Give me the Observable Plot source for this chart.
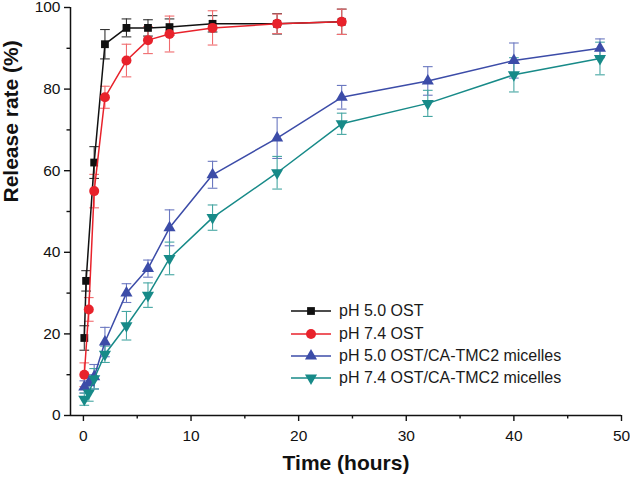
<!DOCTYPE html>
<html>
<head>
<meta charset="utf-8">
<script src="https://cdn.jsdelivr.net/npm/d3@7"></script>
<script src="https://cdn.jsdelivr.net/npm/@observablehq/plot@0.6"></script>
<style>
  body { margin: 0; background: #fff; }
  #wrap { position: relative; width: 630px; height: 479px; font-family: "Liberation Sans", Arial, sans-serif; }
  #legend { position: absolute; left: 290px; top: 300px; font-size: 16px; color: #1a1a1a; }
  #legend .row { display: flex; align-items: center; height: 22.4px; }
  #legend svg { display: block; margin-right: 7px; }
</style>
</head>
<body>
<div id="wrap"><div id="legend"></div></div>
<script>
// ---- data ----
const seriesNames = ["pH 5.0 OST", "pH 7.4 OST", "pH 5.0 OST/CA-TMC2 micelles", "pH 7.4 OST/CA-TMC2 micelles"];
const seriesColors = ["#111111", "#e8222b", "#3c4ca8", "#178a88"];
const errorColors  = ["#333333", "#f06b6e", "#6b78c0", "#45a6a2"];

const timeOST5 = [0.083, 0.25, 1, 2, 4, 6, 8, 12, 18, 24];
const releaseOST5 = [19, 33, 62, 91, 95, 95, 95.2, 96, 96, 96.5];
const errorOST5 = [3, 2.5, 3.9, 3.6, 2.2, 2, 2, 2, 2.5, 3.1];

const timeOST74 = [0.083, 0.5, 1, 2, 4, 6, 8, 12, 18, 24];
const releaseOST74 = [10, 26, 55, 78, 87, 92, 93.5, 95, 96, 96.5];
const errorOST74 = [2.9, 2.9, 4.1, 2.7, 4, 3.3, 4.4, 4.2, 2.4, 3.1];

const timeMicelles = [0.083, 0.5, 1, 2, 4, 6, 8, 12, 18, 24, 32, 40, 48];
const releaseMic5 = [7, 8, 9.5, 18, 30, 36, 46, 59, 68, 78, 82, 87, 90];
const errorMic5 = [1.5, 2, 3, 3.6, 2.3, 2.1, 4.4, 3.3, 5, 2.9, 3.5, 4.3, 2.3];
const releaseMic74 = [4, 5.5, 9, 15, 22, 29.5, 38.5, 48.5, 59.5, 71.5, 76.5, 83.5, 87.5];
const errorMic74 = [1.5, 2, 2.5, 2, 3.5, 3, 4, 3.1, 4, 2.6, 3.2, 4.2, 4];

const xTicks = [0, 10, 20, 30, 40, 50];
const xMinorTicks = [5, 15, 25, 35, 45];
const yTicks = [0, 20, 40, 60, 80, 100];
const yMinorTicks = [10, 30, 50, 70, 90];
const xDomain = [-1.2, 50];
const yDomain = [0, 100];

// ---- build table ----
function build(si, times, vals, errs) {
  return times.map((t, i) => ({series: seriesNames[si], si, t, v: vals[i], e: errs[i]}));
}
const groups = [
  build(0, timeOST5, releaseOST5, errorOST5),
  build(1, timeOST74, releaseOST74, errorOST74),
  build(2, timeMicelles, releaseMic5, errorMic5),
  build(3, timeMicelles, releaseMic74, errorMic74)
];

const triDown = {
  draw(ctx, size) {
    const y = -Math.sqrt(size / (Math.sqrt(3) * 3));
    ctx.moveTo(0, -2 * y);
    ctx.lineTo(-Math.sqrt(3) * y, y);
    ctx.lineTo(Math.sqrt(3) * y, y);
    ctx.closePath();
  }
};
const symbols = ["square", "circle", "triangle", triDown];
const d3symbols = [d3.symbolSquare, d3.symbolCircle, d3.symbolTriangle, triDown];
const radii = [4.4, 5, 4.5, 4.5];
const cap = 0.45;

const marks = [];
groups.forEach((g, k) => {
  const ec = errorColors[k];
  marks.push(
    Plot.ruleX(g, {x: "t", y1: d => d.v - d.e, y2: d => d.v + d.e, stroke: ec, strokeWidth: 1.1}),
    Plot.link(g, {x1: d => d.t - cap, x2: d => d.t + cap, y1: d => d.v + d.e, y2: d => d.v + d.e, stroke: ec, strokeWidth: 1.1}),
    Plot.link(g, {x1: d => d.t - cap, x2: d => d.t + cap, y1: d => d.v - d.e, y2: d => d.v - d.e, stroke: ec, strokeWidth: 1.1})
  );
});
groups.forEach((g, k) => {
  marks.push(
    Plot.line(g, {x: "t", y: "v", stroke: seriesColors[k], strokeWidth: 1.5}),
    Plot.dot(g, {x: "t", y: "v", symbol: symbols[k], r: radii[k], fill: seriesColors[k], stroke: "none"})
  );
});

const chart = Plot.plot({
  width: 630,
  height: 479,
  marginLeft: 70,
  marginRight: 9,
  marginTop: 7,
  marginBottom: 64,
  style: {fontFamily: '"Liberation Sans", Arial, sans-serif', fontSize: "15.5px", color: "#111", background: "transparent", overflow: "visible"},
  x: {domain: xDomain},
  y: {domain: yDomain},
  marks: [
    Plot.axisX({ticks: xTicks, tickSize: 6, tickPadding: 8, label: null, strokeWidth: 1.4}),
    Plot.axisX({ticks: xMinorTicks, tickSize: 3.5, tickFormat: () => "", label: null, strokeWidth: 1.4}),
    Plot.axisY({ticks: yTicks, tickSize: 6, tickPadding: 4, label: null, strokeWidth: 1.4}),
    Plot.axisY({ticks: yMinorTicks, tickSize: 3.5, tickFormat: () => "", label: null, strokeWidth: 1.4}),
    Plot.ruleX([xDomain[0]], {stroke: "#111", strokeWidth: 1.5}),
    Plot.ruleY([yDomain[0]], {stroke: "#111", strokeWidth: 1.5}),
    ...marks,
    Plot.text(["Time (hours)"], {frameAnchor: "bottom", dy: 54, text: d => d, fontWeight: "bold", fontSize: 21, fill: "#111"}),
    Plot.text(["Release rate (%)"], {frameAnchor: "left", dx: -59, dy: -9, rotate: -90, text: d => d, fontWeight: "bold", fontSize: 21, fill: "#111"})
  ]
});
document.getElementById("wrap").prepend(chart);

// ---- legend ----
const legend = d3.select("#legend");
seriesNames.forEach((name, k) => {
  const row = legend.append("div").attr("class", "row");
  const s = row.append("svg").attr("width", 42).attr("height", 14);
  s.append("line").attr("x1", 1).attr("x2", 41).attr("y1", 7).attr("y2", 7)
    .attr("stroke", seriesColors[k]).attr("stroke-width", 1.5);
  s.append("path").attr("transform", "translate(21,7)")
    .attr("d", d3.symbol().type(d3symbols[k]).size(Math.PI * radii[k] * radii[k])())
    .attr("fill", seriesColors[k]);
  row.append("span").text(name);
});
</script>
</body>
</html>
